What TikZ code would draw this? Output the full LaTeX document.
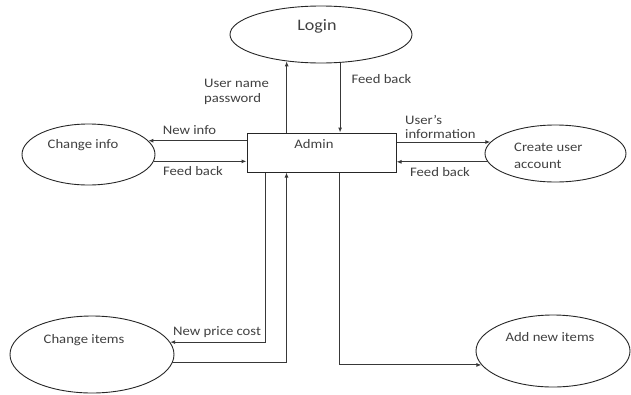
\documentclass[tikz,border=0pt]{standalone}
\usepackage{fontspec}
\setmainfont[FakeStretch=1.13]{Carlito}
\usetikzlibrary{shapes.geometric,arrows.meta}
\begin{document}
\begin{tikzpicture}[x=1pt,y=-1pt,
  proc/.style={ellipse,draw=black!85,line width=0.9pt,inner sep=0pt},
  boxnode/.style={rectangle,draw=black!85,line width=1pt,inner sep=0pt},
  lbl/.style={font=\fontsize{13}{15}\selectfont,text=black!75,inner sep=0pt,text height=0.65em,text depth=0pt},
  arr/.style={draw=black!78,line width=1pt,-{Latex[length=5pt,width=4pt]}},
]
\useasboundingbox (0,0) rectangle (631,394);
% process shapes
\node[proc,minimum width=182pt,minimum height=57pt] (login) at (321,34.5) {};
\node[boxnode,minimum width=149pt,minimum height=39pt] (admin) at (321.5,152.5) {};
\node[proc,minimum width=133pt,minimum height=61pt] (chinfo) at (88.5,154.5) {};
\node[proc,minimum width=141pt,minimum height=57pt] (create) at (555.5,153.5) {};
\node[proc,minimum width=164pt,minimum height=77pt] (chitems) at (92,354.5) {};
\node[proc,minimum width=154pt,minimum height=72pt] (addnew) at (553,351) {};
% texts in shapes
\node[lbl,font=\fontsize{16}{18}\selectfont] (tlogin) at (317,27) {Login};
\node[lbl] (tadmin) at (314,145) {Admin};
\node[lbl] (tchinfo) at (83,145) {Change info};
\node[lbl,anchor=west,align=left,font=\fontsize{13}{17}\selectfont] (tcreate) at (514,165) {Create user\\account};
\node[lbl] (tchitems) at (84,340) {Change items};
\node[lbl] (taddnew) at (550,338) {Add new items};
% connectors
\draw[arr] (admin.north -| login.218) -- (login.218);
\draw[arr] (login.304) -- (login.304 |- admin.north);
\draw[arr] (admin.west |- chinfo.13) -- (chinfo.13);
\draw[arr] (chinfo.354) -- (chinfo.354 -| admin.west);
\draw[arr] (admin.east |- create.170) -- (create.170);
\draw[arr] (create.187) -- (create.187 -| admin.east);
\draw[arr] ([xshift=19pt]admin.south west) |- (chitems.9);
\draw[arr] (chitems.354) -| ([xshift=40pt]admin.south west);
\draw[arr] ([xshift=93pt]admin.south west) |- (addnew.191);
% connector labels
\node[lbl,anchor=west,align=left] (luser) at (204,99) {User name\\password};
\node[lbl] (lfbtop) at (381.5,80) {Feed back};
\node[lbl] (lnewinfo) at (189.5,131) {New info};
\node[lbl] (lfbleft) at (193,172) {Feed back};
\node[lbl,anchor=west,align=left,font=\fontsize{13}{14}\selectfont] (luserinfo) at (405,135.5) {User's\\information};
\node[lbl] (lfbright) at (440,173) {Feed back};
\node[lbl] (lprice) at (217,332) {New price cost};
\end{tikzpicture}
\end{document}
